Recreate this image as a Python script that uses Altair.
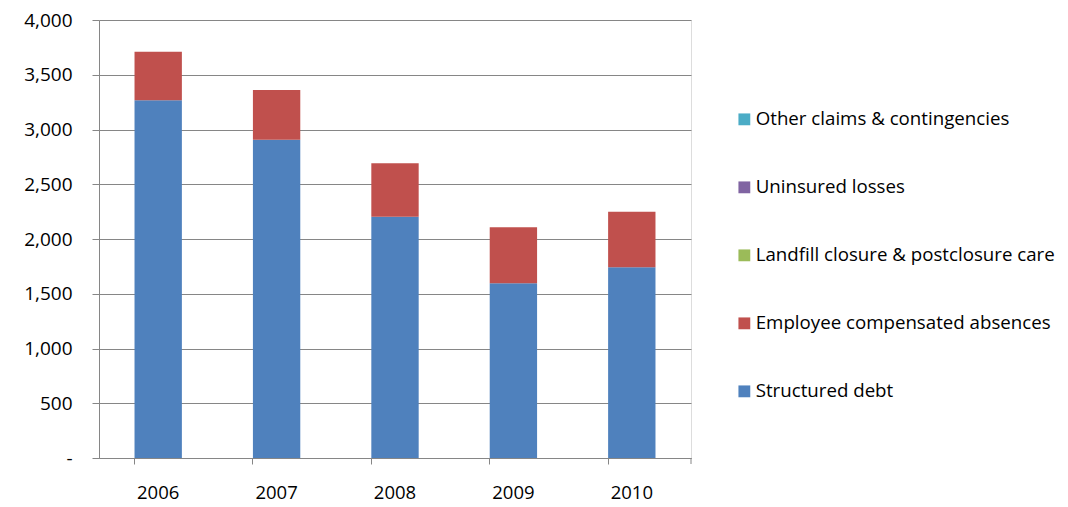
import altair as alt
import pandas as pd

years = ["2006", "2007", "2008", "2009", "2010"]
structured_debt = [3267, 2907, 2204, 1595, 1741]
employee_absences = [443, 454, 487, 512, 508]
landfill = [0, 0, 0, 0, 0]
uninsured = [0, 0, 0, 0, 0]
other_claims = [0, 0, 0, 0, 0]

series_names = [
    "Structured debt",
    "Employee compensated absences",
    "Landfill closure & postclosure care",
    "Uninsured losses",
    "Other claims & contingencies",
]
series_values = [structured_debt, employee_absences, landfill, uninsured, other_claims]
series_colors = ["#4F81BD", "#C0504D", "#9BBB59", "#8064A2", "#4BACC6"]

rows = []
for idx, (name, vals) in enumerate(zip(series_names, series_values)):
    for y, v in zip(years, vals):
        rows.append({"Year": y, "Series": name, "Value": v, "idx": idx})
df = pd.DataFrame(rows)

FONT = "Open Sans"
W, H = 592, 438
PL, PT = 91, 12
PR = 1052 - PL - W
PB = 46

bars = alt.Chart(df).mark_bar().encode(
    x=alt.X("Year:N", title=None, sort=years,
            scale=alt.Scale(paddingInner=0.6, paddingOuter=0.3),
            axis=alt.Axis(bandPosition=0, labelAngle=0, tickSize=6, labelPadding=19,
                          domainColor="#868686", tickColor="#868686", grid=False,
                          labelFontSize=18.5, labelFont=FONT, labelColor="#000000")),
    y=alt.Y("Value:Q", title=None, stack="zero",
            scale=alt.Scale(domain=[0, 4000], nice=False),
            axis=alt.Axis(values=list(range(0, 4001, 500)),
                          labelExpr="datum.value == 0 ? '-' : format(datum.value, ',')",
                          tickSize=7, labelPadding=20, domainColor="#868686",
                          tickColor="#868686", gridColor="#868686", gridWidth=1,
                          labelFontSize=19, labelFont=FONT, labelColor="#000000")),
    color=alt.Color("Series:N",
                    scale=alt.Scale(domain=series_names[::-1], range=series_colors[::-1]),
                    legend=alt.Legend(title=None, orient="none", legendX=636, legendY=90,
                                      symbolType="square", symbolSize=140,
                                      symbolStrokeWidth=0, labelFontSize=18.7,
                                      labelFont=FONT, labelColor="#000000",
                                      rowPadding=48, labelOffset=2, labelLimit=400)),
    order=alt.Order("idx:Q", sort="ascending"),
)

end_tick = alt.Chart(pd.DataFrame({"a": [0]})).mark_rule(color="#868686").encode(
    x=alt.value(W), y=alt.value(H), y2=alt.value(H + 6)
)

chart = alt.layer(bars, end_tick).properties(
    width=W, height=H,
    padding={"left": PL, "top": PT, "right": PR, "bottom": PB},
    autosize=alt.AutoSizeParams(type="none"),
).configure_view(stroke=None).configure(background="#FFFFFF")

chart.save("out.html", embed_options={"renderer": "svg", "actions": False})
